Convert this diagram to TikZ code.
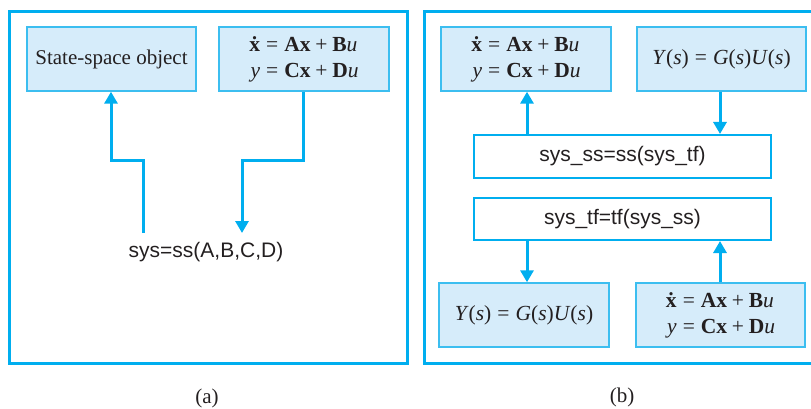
\documentclass[tikz,border=0pt]{standalone}
\usepackage{fontspec}
\setmainfont{Liberation Serif}
\newfontfamily\sansf{Liberation Sans}
\usetikzlibrary{arrows.meta}
\definecolor{cyanline}{RGB}{0,174,239}
\definecolor{boxfill}{RGB}{214,236,250}
\definecolor{boxline}{RGB}{60,190,240}
\definecolor{txt}{RGB}{35,31,32}
\tikzset{
  frame/.style={draw=cyanline, line width=3pt},
  bluebox/.style={draw=boxline, fill=boxfill, line width=1.4pt, minimum width=170pt, minimum height=64pt, inner sep=0pt, align=center, text=txt, font=\fontsize{21.5}{26}\selectfont},
  cmdbox/.style={draw=cyanline, fill=white, line width=2pt, minimum width=297pt, minimum height=43pt, inner sep=0pt, text=txt, font=\sansf\fontsize{21}{26}\selectfont},
  cmdtext/.style={inner sep=0pt, text=txt, font=\sansf\fontsize{21}{26}\selectfont},
  lab/.style={inner sep=0pt, text=txt, font=\fontsize{21}{26}\selectfont},
  arr/.style={draw=cyanline, line width=3pt, -{Triangle[width=13pt,length=12pt]}},
  link/.style={draw=cyanline, line width=3pt}
}
\newcommand{\eqsp}{\hspace{0.28em}=\hspace{0.28em}}
\newcommand{\plsp}{\hspace{0.22em}+\hspace{0.22em}}
\newcommand{\sseq}{\raisebox{-2pt}{\begin{tabular}{@{}r@{}l@{}}
{\bfseries\.{x}} & \eqsp{\bfseries Ax}\plsp{\bfseries B}\textit{u}\\
\textit{y} & \eqsp{\bfseries Cx}\plsp{\bfseries D}\textit{u}
\end{tabular}}}
\newcommand{\tfeq}{\textit{Y}(\textit{s})\eqsp\textit{G}(\textit{s})\textit{U}(\textit{s})}
\begin{document}
\begin{tikzpicture}[x=1pt,y=-1pt]
\useasboundingbox (0,0) rectangle (811,409);
\clip (0,0) rectangle (811,409);
% frames
\draw[frame] (9,12) rectangle (407,363);
\draw[frame] (424,12) rectangle (820,363);
% panel (a)
\node[bluebox, minimum width=169pt, font=\fontsize{21}{26}\selectfont] (ss) at (111.5,59) {State-space object};
\node[bluebox] (eqA) at (304,59) {\sseq};
\node[cmdtext, anchor=base] (sysA) at (206,257) {sys=ss(A,B,C,D)};
\coordinate (a1) at (143,233);
\coordinate (a2) at (242,233);
\draw[arr] (a1) |- (111,160) -- (ss.south -| 111,0);
\draw[arr] (eqA.south -| 303,0) |- (a2 |- 0,160) -- (a2);
\node[lab] (la) at (207,398) {(a)};
% panel (b)
\node[bluebox] (tl) at (526,59) {\sseq};
\node[bluebox, minimum width=169pt] (tr) at (721.5,59) {\tfeq};
\node[cmdbox] (sysss) at (622.5,156.5) {sys\_ss=ss(sys\_tf)};
\node[cmdbox, minimum height=42pt] (systf) at (622.5,219) {sys\_tf=tf(sys\_ss)};
\node[bluebox] (bl) at (524,315) {\tfeq};
\node[bluebox, minimum width=169pt] (br) at (720.5,315) {\sseq};
\draw[arr] (sysss.north -| 527,0) -- (tl.south -| 527,0);
\draw[arr] (tr.south -| 720,0) -- (sysss.north -| 720,0);
\draw[arr] (systf.south -| 527,0) -- (bl.north -| 527,0);
\draw[arr] (br.north -| 720,0) -- (systf.south -| 720,0);
\node[lab] (lb) at (622,397) {(b)};
\end{tikzpicture}
\end{document}
